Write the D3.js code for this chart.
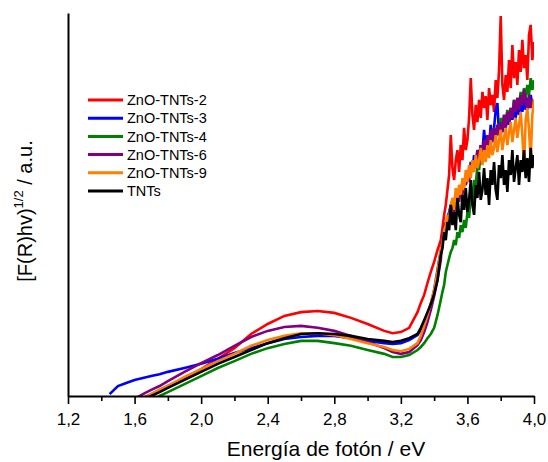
<!DOCTYPE html>
<html><head><meta charset="utf-8">
<script src="https://cdn.jsdelivr.net/npm/d3@7/dist/d3.min.js"></script>
<style>
html,body{margin:0;padding:0;background:#fff;}
svg text{font-family:"Liberation Sans",Arial,sans-serif;fill:#000;}
</style></head>
<body>
<svg id="chart" width="548" height="462"></svg>
<script>
// ---- DATA (y in arbitrary units, 0-100) ----
const energyA = [1.45,1.50,1.55,1.60,1.65,1.70,1.75,1.80,1.90,2.00,2.10,2.20,2.30,2.40,2.50,2.60,2.70,2.80,2.90,3.00,3.10,3.15,3.20,3.25,3.30];
const energyB = [3.32,3.34,3.36,3.38,3.40,3.42,3.44,
  3.45,3.46,3.47,3.48,3.49,3.50,3.51,3.52,3.53,3.54,
  3.55,3.56,3.57,3.58,3.59,3.60,3.61,3.62,3.63,3.64,
  3.65,3.66,3.67,3.68,3.69,3.70,3.71,3.72,3.73,3.74,
  3.75,3.76,3.77,3.78,3.79,3.80,3.81,3.82,3.83,3.84,
  3.85,3.86,3.87,3.88,3.89,3.90,3.91,3.92,3.93,3.94,
  3.95,3.96,3.97,3.98,3.99,4.00];

const seriesNames = ["ZnO-TNTs-2","ZnO-TNTs-3","ZnO-TNTs-4","ZnO-TNTs-6","ZnO-TNTs-9","TNTs"];
const seriesColors = ["#ff0000","#0000ff","#008000","#800080","#ff8000","#000000"];

const red_A    = [null,null,null,null,-0.5,0.5,1.6,2.6,4.7,7.0,9.7,12.5,16.2,18.8,20.9,21.9,22.2,21.7,20.4,18.8,17.0,16.4,16.7,17.8,21.9];
const red_B    = [24.3,26.4,29.5,32.4,35.0,38.1,40.7,
  43.9,47.3,49.9,53.8,57.7,68.1,59.5,56.4,61.6,64.2,
  58.5,65.5,61.6,70.0,64.2,66.8,72.6,83.0,73.4,69.5,
  76.0,71.5,77.3,72.6,79.4,75.2,78.3,72.1,80.4,76.0,
  78.6,74.2,82.5,77.8,85.1,99.2,81.2,77.3,83.8,79.4,
  87.7,80.4,91.6,83.0,87.2,81.2,90.3,84.6,93.0,85.6,
  89.0,82.5,94.3,96.9,87.7,92.4];
const blue_A   = [0.5,2.6,3.4,4.2,4.7,5.2,5.7,6.3,7.3,8.4,9.7,11.2,12.5,13.8,14.9,15.4,15.7,15.7,15.1,14.4,13.8,13.6,13.8,14.6,15.9];
const blue_B   = [17.2,19.3,21.1,23.8,27.7,32.9,38.1,
  40.7,42.8,44.6,46.5,48.0,49.9,48.6,51.7,49.9,53.8,
  51.7,55.1,53.3,56.9,55.1,59.0,56.9,61.1,59.0,62.9,
  60.3,64.2,62.1,65.5,63.7,69.5,64.8,67.4,65.5,70.8,
  66.8,70.0,74.7,76.5,68.1,70.8,68.9,72.1,70.0,73.4,
  70.8,74.2,72.1,75.2,72.6,76.0,73.4,76.8,74.2,77.3,
  74.7,77.8,75.2,78.6,76.0,77.3];
const green_A  = [null,null,null,null,null,-1.3,0.0,1.0,3.1,5.2,7.3,9.1,11.0,12.5,13.6,14.4,14.4,13.8,13.1,12.0,11.0,10.2,10.2,10.7,12.0];
const green_B  = [12.8,13.8,15.1,16.2,17.8,21.1,25.1,
  27.2,29.0,32.4,34.2,36.0,37.6,38.6,40.7,39.4,42.8,
  41.3,44.6,42.8,46.0,43.9,48.0,46.5,52.5,51.2,56.4,
  55.1,60.3,59.0,63.7,62.1,65.5,64.2,67.4,64.8,68.1,
  66.3,70.0,67.4,70.8,68.9,72.6,70.0,73.4,71.5,74.7,
  72.1,75.2,73.4,77.3,74.2,77.8,76.0,79.4,76.8,80.4,
  77.8,81.2,78.6,83.0,79.9,82.5];
const purple_A = [null,null,null,-0.8,0.5,1.6,2.6,3.9,6.3,8.6,10.7,13.1,15.4,17.0,18.0,18.3,17.8,17.0,15.7,14.1,12.5,11.5,11.0,11.5,13.3];
const purple_B = [14.6,16.7,19.3,22.5,26.1,30.3,35.5,
  41.3,43.9,45.4,44.6,47.3,48.6,49.9,48.0,51.7,52.5,
  50.7,54.3,52.5,56.4,55.1,57.7,55.9,60.3,58.5,61.6,
  59.5,64.2,62.1,65.5,62.9,66.8,64.2,68.1,65.5,69.5,
  66.3,70.0,67.4,70.8,68.1,71.5,68.9,73.4,70.0,74.2,
  71.5,75.2,72.6,77.3,74.2,77.8,74.7,78.6,76.0,79.9,
  76.8,74.7,78.6,75.2,77.3,74.2];
const orange_A = [null,null,null,null,-0.8,0.5,1.6,2.6,5.0,7.0,9.1,11.0,13.1,14.6,15.7,16.4,16.4,15.9,14.9,13.8,12.8,12.0,11.7,12.3,13.8];
const orange_B = [15.7,18.3,21.1,24.3,27.7,32.4,38.1,
  40.2,43.3,44.6,47.3,46.0,49.9,51.7,48.6,54.3,51.2,
  55.1,52.5,56.9,53.8,59.0,55.9,60.3,56.9,61.6,58.5,
  62.9,59.5,61.6,64.8,60.3,64.2,61.1,65.5,62.1,66.8,
  62.9,64.8,68.1,63.7,66.8,69.5,64.2,67.4,70.0,65.5,
  68.9,71.5,66.3,69.5,72.6,67.4,70.8,74.2,68.1,59.5,
  72.1,75.2,69.5,61.6,73.4,77.3];
const black_A  = [null,null,null,null,-1.3,0.0,1.0,2.1,4.2,6.3,8.4,10.2,12.0,13.8,15.1,16.2,16.4,16.2,15.7,14.9,14.4,14.1,14.4,15.1,16.2];
const black_B  = [17.8,19.8,21.9,24.0,26.6,30.3,36.8,
  38.6,42.8,40.7,45.4,43.3,49.9,44.6,48.0,43.3,51.7,
  47.3,45.4,52.5,48.6,54.3,48.0,51.2,56.4,49.9,47.3,
  55.1,51.7,58.5,51.2,53.8,59.5,52.5,56.9,49.9,59.0,
  55.1,61.1,53.8,51.2,60.3,56.9,62.9,55.1,59.0,53.3,
  61.6,57.7,64.2,55.9,59.5,62.9,55.1,61.6,58.5,64.2,
  56.9,62.1,55.9,64.8,59.5,62.9];

const xTicks = [1.2,1.6,2.0,2.4,2.8,3.2,3.6,4.0];
const xMinorTicks = [1.4,1.8,2.2,2.6,3.0,3.4,3.8];

// ---- CHART ----
const svg = d3.select("#chart");
const x = d3.scaleLinear().domain([1.2, 4.0]).range([68, 534]);
const y = d3.scaleLinear().domain([0, 100]).range([396, 13]);

const seriesValues = [
  red_A.concat(red_B), blue_A.concat(blue_B), green_A.concat(green_B),
  purple_A.concat(purple_B), orange_A.concat(orange_B), black_A.concat(black_B)
];
const energy = energyA.concat(energyB);

svg.append("defs").append("clipPath").attr("id","plotclip")
  .append("rect").attr("x", x(1.2)).attr("y", 0).attr("width", x(4.0)-x(1.2)).attr("height", y(0));

const line = d3.line()
  .defined(d => d[1] !== null)
  .x(d => x(d[0])).y(d => y(d[1]));

const plot = svg.append("g").attr("clip-path","url(#plotclip)");
seriesValues.forEach((vals, i) => {
  const pts = energy.map((e, j) => [e, vals[j]]);
  plot.append("path").datum(pts)
    .attr("fill","none").attr("stroke", seriesColors[i])
    .attr("stroke-width", 2.6).attr("stroke-linejoin","miter").attr("stroke-miterlimit", 2)
    .attr("d", line);
});

// x axis
const xAxis = svg.append("g").attr("transform", `translate(0,${y(0)})`)
  .call(d3.axisBottom(x).tickValues(xTicks).tickSize(8).tickSizeOuter(0).tickPadding(9)
    .tickFormat(d => d.toFixed(1).replace(".", ",")));
xAxis.select(".domain").attr("stroke-width", 2);
xAxis.selectAll(".tick line").attr("stroke-width", 1.6);
xAxis.selectAll(".tick text").attr("font-size", "17px").attr("font-family", "Liberation Sans, Arial, sans-serif");

const xMinor = svg.append("g").attr("transform", `translate(0,${y(0)})`)
  .call(d3.axisBottom(x).tickValues(xMinorTicks).tickSize(5).tickSizeOuter(0).tickFormat(""));
xMinor.select(".domain").remove();
xMinor.selectAll(".tick line").attr("stroke-width", 1.6);

// y axis (no ticks)
const yAxis = svg.append("g").attr("transform", `translate(${x(1.2)},0)`)
  .call(d3.axisLeft(y).tickValues([]).tickSizeOuter(0));
yAxis.select(".domain").attr("stroke-width", 2);

// axis titles
svg.append("text").attr("x", 326).attr("y", 456).attr("text-anchor","middle")
  .attr("font-size","21px").text("Energía de fotón / eV");

const yt = svg.append("text").attr("transform","translate(32,211) rotate(-90)")
  .attr("text-anchor","middle").attr("font-size","20px");
yt.append("tspan").text("[F(R)hv)");
yt.append("tspan").attr("font-size","13px").attr("dy","-9").text("1/2");
yt.append("tspan").attr("dy","9").text(" / a.u.");

// legend
const legend = svg.append("g");
seriesNames.forEach((name, i) => {
  const ly = 100 + i * 18.2;
  legend.append("line").attr("x1", 88).attr("x2", 123).attr("y1", ly).attr("y2", ly)
    .attr("stroke", seriesColors[i]).attr("stroke-width", 3);
  legend.append("text").attr("x", 127).attr("y", ly).attr("dy","0.36em")
    .attr("font-size","14.5px").text(name);
});
</script>
</body></html>
